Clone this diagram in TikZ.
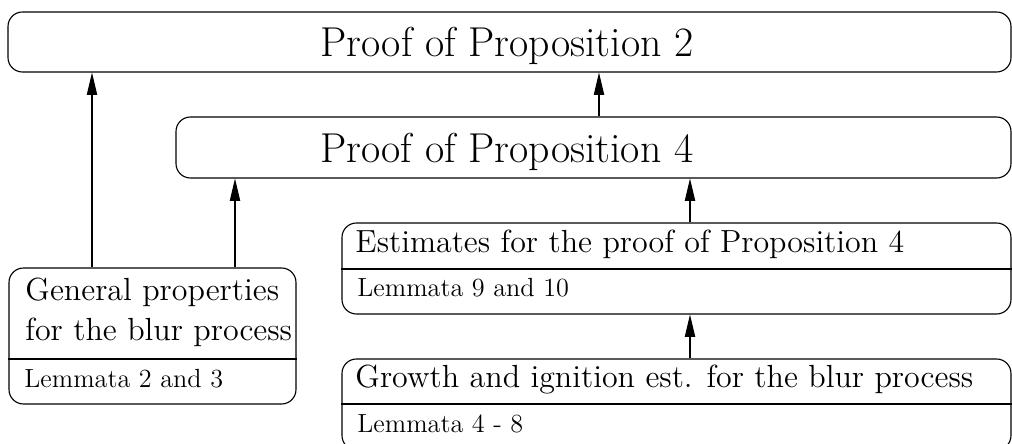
\documentclass[tikz,border=0pt]{standalone}
\usetikzlibrary{arrows.meta,fit}
\begin{document}
\begin{tikzpicture}[x=0.45pt,y=-0.45pt,
  box/.style={draw,line width=0.5pt,rounded corners=6.5pt,inner sep=0pt},
  big/.style={font=\fontsize{18.8}{22}\selectfont,inner sep=0pt,anchor=base},
  mid/.style={font=\Large,inner sep=0pt,anchor=base west},
  sml/.style={font=\fontsize{11.8}{14}\selectfont,inner sep=0pt,anchor=base west},
  divider/.style={line width=0.5pt},
  arr/.style={line width=0.5pt,-{Triangle[length=10pt,width=4.6pt]}}]
\useasboundingbox (0,0) rectangle (1012,444);
% boxes
\node[box,fit={(8,12) (1011,72)}] (A) {};
\node[box,fit={(176,117) (1011,178)}] (B) {};
\node[box,fit={(9,268) (296,404)}] (C) {};
\node[box,fit={(342,223) (1011,314)}] (D) {};
\node[box,fit={(342,359) (1011,450)}] (E) {};
% texts
\node[big] (tA) at (507,57) {Proof of Proposition 2};
\node[big,anchor=base west] (tB) at (320,163) {Proof of Proposition 4};
\node[mid] (tC1) at (25,301) {General properties};
\node[mid] (tC2) at (25,341) {for the blur process};
\node[sml] (tC3) at (24,388) {Lemmata 2 and 3};
\node[mid] (tD1) at (355,253) {Estimates for the proof of Proposition 4};
\node[sml] (tD2) at (357,297) {Lemmata 9 and 10};
\node[mid] (tE1) at (355,388) {Growth and ignition est. for the blur process};
\node[sml] (tE2) at (357,433) {Lemmata 4 - 8};
% dividers
\coordinate (dC) at (0,359);
\coordinate (dD) at (0,269);
\coordinate (dE) at (0,404);
\draw[divider] (C.west |- dC) -- (C.east |- dC);
\draw[divider] (D.west |- dD) -- (D.east |- dD);
\draw[divider] (E.west |- dE) -- (E.east |- dE);
% connector x positions
\coordinate (x1) at (92,0);
\coordinate (x2) at (235,0);
\coordinate (x3) at (599,0);
\coordinate (x4) at (690,0);
\draw[arr] (C.north -| x1) -- (A.south -| x1);
\draw[arr] (C.north -| x2) -- (B.south -| x2);
\draw[arr] (B.north -| x3) -- (A.south -| x3);
\draw[arr] (D.north -| x4) -- (B.south -| x4);
\draw[arr] (E.north -| x4) -- (D.south -| x4);
\end{tikzpicture}
\end{document}
